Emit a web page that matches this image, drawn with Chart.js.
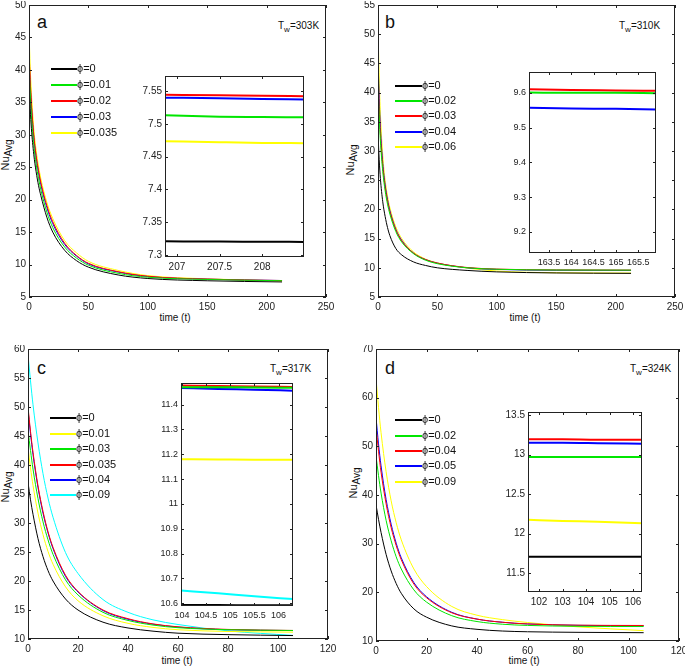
<!DOCTYPE html>
<html>
<head>
<meta charset="utf-8">
<script src="https://cdn.jsdelivr.net/npm/chart.js@4.4.0/dist/chart.umd.min.js"></script>
<style>
body { margin: 0; background: #fff; width: 685px; height: 669px; position: relative; overflow: hidden; font-family: "Liberation Sans", Arial, sans-serif; }
canvas { position: absolute; }
.txt { position: absolute; color: #111; white-space: nowrap; line-height: 1; }
.letter { font-size: 18px; line-height: 18px; }
.tw { font-size: 10px; }
.tw sub { font-size: 8px; vertical-align: -3px; }
.yt { font-size: 11px; transform: translate(-50%, -50%) rotate(-90deg); }
.yt sub { font-size: 10px; vertical-align: -3px; }
.xt { font-size: 10px; transform: translateX(-50%); }
.leg { position: absolute; font-size: 11px; line-height: 11px; color: #111; white-space: nowrap; }
</style>
</head>
<body>

<div class="txt letter" style="left:37px;top:13px">a</div>
<div class="txt letter" style="left:385px;top:13px">b</div>
<div class="txt letter" style="left:37px;top:359px">c</div>
<div class="txt letter" style="left:385px;top:359px">d</div>

<div class="txt tw" style="left:278px;top:21px">T<sub>w</sub>=303K</div>
<div class="txt tw" style="left:619px;top:21px">T<sub>w</sub>=310K</div>
<div class="txt tw" style="left:270px;top:364px">T<sub>w</sub>=317K</div>
<div class="txt tw" style="left:630px;top:364px">T<sub>w</sub>=324K</div>

<div class="txt yt" style="left:7px;top:155px">Nu<sub>Avg</sub></div>
<div class="txt yt" style="left:352px;top:160px">Nu<sub>Avg</sub></div>
<div class="txt yt" style="left:7px;top:487px">Nu<sub>Avg</sub></div>
<div class="txt yt" style="left:355px;top:483px">Nu<sub>Avg</sub></div>

<div class="txt xt" style="left:175px;top:313px">time (t)</div>
<div class="txt xt" style="left:525px;top:313px">time (t)</div>
<div class="txt xt" style="left:177px;top:656px">time (t)</div>
<div class="txt xt" style="left:524px;top:656px">time (t)</div>

<script>
// ---- panel a (Tw = 303K) ----
const timeA = [0, 1, 2, 4, 6, 8, 10, 15, 20, 30, 40, 50, 75, 100, 150, 213];
const phiA = ['0', '0.01', '0.02', '0.03', '0.035'];
const nuA_0    = [38, 34, 31, 27, 24.3, 22.2, 20.6, 17.3, 15, 12.2, 10.6, 9.6, 8.4, 7.85, 7.5, 7.32];
const nuA_001  = [41, 36.5, 33, 28.5, 25.5, 23.3, 21.5, 18.1, 15.7, 12.7, 11, 9.9, 8.65, 8.05, 7.7, 7.51];
const nuA_002  = [43, 38.5, 35, 30, 26.8, 24.5, 22.6, 19.1, 16.6, 13.3, 11.4, 10.2, 8.9, 8.2, 7.75, 7.54];
const nuA_003  = [42, 37.8, 34.4, 29.6, 26.5, 24.2, 22.3, 18.8, 16.3, 13.1, 11.3, 10.1, 8.85, 8.15, 7.75, 7.54];
const nuA_0035 = [46, 40.5, 36.5, 31, 27.6, 25.2, 23.2, 19.6, 17.1, 13.7, 11.8, 10.5, 9.1, 8.3, 7.8, 7.47];
const xTicksA = [0, 50, 100, 150, 200, 250];
const yTicksA = [5, 10, 15, 20, 25, 30, 35, 40, 45, 50];
// inset a
const insetTimeA = [206.86, 207.5, 208, 208.49];
const insA_0    = [7.321, 7.3205, 7.3203, 7.320];
const insA_001  = [7.513, 7.511, 7.5105, 7.510];
const insA_002  = [7.5445, 7.5435, 7.543, 7.542];
const insA_003  = [7.540, 7.539, 7.538, 7.537];
const insA_0035 = [7.4735, 7.472, 7.471, 7.4705];
const insXTicksA = [207, 207.5, 208];
const insYTicksA = [7.3, 7.35, 7.4, 7.45, 7.5, 7.55];

// ---- panel b (Tw = 310K) ----
const timeB = [0, 1, 2, 4, 6, 8, 10, 15, 20, 30, 40, 50, 75, 100, 150, 213];
const phiB = ['0', '0.02', '0.03', '0.04', '0.06'];
const nuB_0    = [33, 28.5, 25.3, 21.3, 18.8, 16.9, 15.5, 13.3, 12.2, 11.0, 10.4, 10.0, 9.55, 9.3, 9.12, 9.05];
const nuB_002  = [42, 36, 31.8, 26.5, 23.2, 20.9, 19.2, 16.2, 14.4, 12.4, 11.3, 10.7, 10.0, 9.75, 9.62, 9.60];
const nuB_003  = [44, 37.5, 33, 27.3, 23.8, 21.4, 19.6, 16.5, 14.6, 12.5, 11.4, 10.8, 10.05, 9.78, 9.63, 9.607];
const nuB_004  = [46, 39, 34, 27.9, 24.2, 21.7, 19.8, 16.6, 14.7, 12.5, 11.4, 10.8, 10.0, 9.72, 9.58, 9.55];
const nuB_006  = [51, 42.5, 36.5, 29.2, 25, 22.3, 20.3, 17, 15, 12.7, 11.5, 10.85, 9.95, 9.45, 9.15, 9.1];
const xTicksB = [0, 50, 100, 150, 200, 250];
const yTicksB = [5, 10, 15, 20, 25, 30, 35, 40, 45, 50, 55];
// inset b
const insetTimeB = [163.05, 164, 165, 165.9];
const insB_002 = [9.601, 9.600, 9.600, 9.599];
const insB_003 = [9.610, 9.608, 9.607, 9.606];
const insB_004 = [9.557, 9.555, 9.554, 9.552];
const insXTicksB = [163.5, 164, 164.5, 165, 165.5];
const insYTicksB = [9.2, 9.3, 9.4, 9.5, 9.6];

// ---- panel c (Tw = 317K) ----
const timeC = [0, 1, 2, 4, 6, 8, 10, 15, 20, 30, 40, 50, 60, 80, 106];
const phiC = ['0', '0.01', '0.03', '0.035', '0.04', '0.09'];
const nuC_0    = [37, 34, 31.5, 27.3, 24.2, 21.8, 20, 16.9, 15, 12.9, 11.9, 11.35, 11.0, 10.75, 10.593];
const nuC_001  = [43, 39.5, 36.5, 31.7, 28, 25.1, 22.9, 19, 16.6, 14, 12.7, 12.0, 11.6, 11.3, 11.18];
const nuC_003  = [46, 42.5, 39.3, 34.2, 30.2, 27.1, 24.6, 20.2, 17.6, 14.6, 13.2, 12.4, 11.95, 11.6, 11.47];
const nuC_0035 = [50, 45.8, 42.2, 36.4, 32, 28.5, 25.8, 21, 18.2, 15, 13.5, 12.6, 12.1, 11.65, 11.471];
const nuC_004  = [49.5, 45.4, 41.8, 36.1, 31.7, 28.3, 25.6, 20.8, 18.1, 14.9, 13.4, 12.55, 12.05, 11.6, 11.456];
const nuC_009  = [59, 54.5, 50.4, 43.8, 38.5, 34.3, 31, 24.9, 21.3, 16.8, 14.6, 13.3, 12.5, 11.4, 10.617];
const xTicksC = [0, 20, 40, 60, 80, 100, 120];
const yTicksC = [10, 15, 20, 25, 30, 35, 40, 45, 50, 55, 60];
// inset c
const insetTimeC = [103.98, 104.75, 105.5, 106.3];
const insC_0    = [10.593, 10.593, 10.592, 10.592];
const insC_001  = [11.180, 11.179, 11.178, 11.178];
const insC_003  = [11.470, 11.470, 11.469, 11.468];
const insC_0035 = [11.477, 11.475, 11.473, 11.471];
const insC_004  = [11.467, 11.463, 11.460, 11.456];
const insC_009  = [10.651, 10.640, 10.628, 10.617];
const insXTicksC = [104, 104.5, 105, 105.5, 106];
const insYTicksC = [10.6, 10.7, 10.8, 10.9, 11, 11.1, 11.2, 11.3, 11.4];

// ---- panel d (Tw = 324K) ----
const timeD = [0, 1, 2, 4, 6, 8, 10, 15, 20, 30, 40, 50, 60, 80, 106];
const phiD = ['0', '0.02', '0.04', '0.05', '0.09'];
const nuD_0    = [38, 35, 32.3, 27.8, 24.4, 21.8, 19.8, 16.6, 14.9, 13.1, 12.4, 12.05, 11.9, 11.78, 11.707];
const nuD_002  = [48, 44, 40.4, 34.8, 30.6, 27.3, 24.8, 20.5, 18, 15.2, 14, 13.45, 13.2, 13.02, 12.97];
const nuD_004  = [54, 49, 44.7, 38.2, 33.3, 29.6, 26.7, 21.7, 18.9, 15.8, 14.5, 13.85, 13.5, 13.25, 13.19];
const nuD_005  = [56, 50.5, 46, 39.1, 34, 30.1, 27.1, 22, 19.1, 15.9, 14.5, 13.85, 13.5, 13.22, 13.137];
const nuD_009  = [64, 58, 52.8, 44.8, 38.8, 34.3, 30.8, 24.8, 21.2, 17.1, 15.3, 14.4, 13.8, 12.9, 12.13];
const xTicksD = [0, 20, 40, 60, 80, 100, 120];
const yTicksD = [10, 20, 30, 40, 50, 60, 70];
// inset d
const insetTimeD = [101.53, 103, 104.5, 106.38];
const insD_0   = [11.707, 11.707, 11.707, 11.707];
const insD_002 = [12.97, 12.97, 12.97, 12.97];
const insD_004 = [13.195, 13.195, 13.19, 13.19];
const insD_005 = [13.15, 13.15, 13.145, 13.137];
const insD_009 = [12.174, 12.16, 12.15, 12.13];
const insXTicksD = [102, 103, 104, 105, 106];
const insYTicksD = [11.5, 12, 12.5, 13, 13.5];

const K = '#000000', G = '#00e600', R = '#ff0000', B = '#0000ff', Y = '#ffff00', Cy = '#00ffff';

// box plus inward ticks on all four sides, like the matlab axes
const framePlugin = {
    id: 'frame',
    beforeDraw(chart, args, opts) {
        if (!opts.bg) return;
        const a = chart.chartArea;
        chart.ctx.save();
        chart.ctx.fillStyle = '#fff';
        chart.ctx.fillRect(a.left, a.top, a.width, a.height);
        chart.ctx.restore();
    },
    afterDraw(chart, args, opts) {
        const { ctx, chartArea: a, scales } = chart;
        const len = opts.len || 3;
        ctx.save();
        ctx.strokeStyle = '#222';
        ctx.lineWidth = 1;
        ctx.strokeRect(Math.round(a.left) + 0.5, Math.round(a.top) + 0.5, Math.round(a.width) - 1, Math.round(a.height) - 1);
        ctx.beginPath();
        scales.x.ticks.forEach(t => {
            const px = Math.round(scales.x.getPixelForValue(t.value)) + 0.5;
            ctx.moveTo(px, a.bottom); ctx.lineTo(px, a.bottom - len);
            ctx.moveTo(px, a.top); ctx.lineTo(px, a.top + len);
        });
        scales.y.ticks.forEach(t => {
            const py = Math.round(scales.y.getPixelForValue(t.value)) + 0.5;
            ctx.moveTo(a.left, py); ctx.lineTo(a.left + len, py);
            ctx.moveTo(a.right, py); ctx.lineTo(a.right - len, py);
        });
        ctx.stroke();
        ctx.restore();
    }
};

function makePlot(p) {
    const cv = document.createElement('canvas');
    const W = p.r - p.l + p.yw + p.pr;
    const H = p.b - p.t + p.pt + p.xh;
    cv.width = W; cv.height = H;
    cv.style.left = (p.l - p.yw) + 'px';
    cv.style.top = (p.t - p.pt) + 'px';
    cv.style.width = W + 'px'; cv.style.height = H + 'px';
    document.body.appendChild(cv);

    const tickFont = { family: '"Liberation Sans", Arial, sans-serif', size: p.fs || 10 };
    return new Chart(cv.getContext('2d'), {
        type: 'line',
        data: {
            datasets: p.series.map((s, i) => ({
                label: p.labels ? 'ϕ=' + p.labels[i] : '',
                data: p.x.map((t, j) => ({ x: t, y: s[j] })),
                borderColor: p.colors[i],
                borderWidth: p.lw,
                pointRadius: 0,
                cubicInterpolationMode: 'monotone',
                fill: false
            }))
        },
        options: {
            responsive: false,
            animation: false,
            devicePixelRatio: 1,
            layout: { padding: { left: 0, top: p.pt, right: p.pr, bottom: 0 } },
            plugins: {
                legend: { display: false },
                tooltip: { enabled: false },
                frame: { bg: p.bg, len: 3 }
            },
            scales: {
                x: {
                    type: 'linear', min: p.xMin, max: p.xMax,
                    grid: { display: false, drawTicks: false },
                    border: { display: false },
                    ticks: { font: tickFont, color: '#222', padding: 4, maxRotation: 0, autoSkip: false, callback: v => String(v) },
                    afterBuildTicks: s => { s.ticks = p.xTicks.map(v => ({ value: v })); },
                    afterFit: s => { s.height = p.xh; s.paddingLeft = 0; s.paddingRight = 0; }
                },
                y: {
                    type: 'linear', min: p.yMin, max: p.yMax,
                    grid: { display: false, drawTicks: false },
                    border: { display: false },
                    ticks: { font: tickFont, color: '#222', padding: 3, autoSkip: false, callback: v => String(v) },
                    afterBuildTicks: s => { s.ticks = p.yTicks.map(v => ({ value: v })); },
                    afterFit: s => { s.width = p.yw; s.paddingTop = 0; s.paddingBottom = 0; }
                }
            }
        },
        plugins: [framePlugin]
    });
}

function makeLegend(chart, x0, x1, ys) {
    chart.data.datasets.forEach((ds, i) => {
        const ln = document.createElement('div');
        ln.className = 'leg';
        ln.style.left = x0 + 'px';
        ln.style.top = (ys[i] - 1) + 'px';
        ln.style.width = (x1 - x0) + 'px';
        ln.style.height = '2px';
        ln.style.background = ds.borderColor;
        document.body.appendChild(ln);
        const tx = document.createElement('div');
        tx.className = 'leg';
        tx.textContent = ds.label;
        tx.style.left = x1 + 'px';
        tx.style.top = (ys[i] - 6) + 'px';
        document.body.appendChild(tx);
    });
}

const mainA = makePlot({ l: 29, t: 5, r: 326, b: 297, yw: 27, xh: 22, pt: 4, pr: 10,
    xMin: 0, xMax: 250, yMin: 5, yMax: 50, xTicks: xTicksA, yTicks: yTicksA, x: timeA, lw: 1,
    series: [nuA_0, nuA_001, nuA_002, nuA_003, nuA_0035], labels: phiA, colors: [K, G, R, B, Y] });
const mainB = makePlot({ l: 378, t: 5, r: 675, b: 297, yw: 27, xh: 22, pt: 4, pr: 10,
    xMin: 0, xMax: 250, yMin: 5, yMax: 55, xTicks: xTicksB, yTicks: yTicksB, x: timeB, lw: 1,
    series: [nuB_0, nuB_002, nuB_003, nuB_004, nuB_006], labels: phiB, colors: [K, G, R, B, Y] });
const mainC = makePlot({ l: 28, t: 349, r: 328, b: 639, yw: 27, xh: 22, pt: 4, pr: 10,
    xMin: 0, xMax: 120, yMin: 10, yMax: 60, xTicks: xTicksC, yTicks: yTicksC, x: timeC, lw: 1,
    series: [nuC_0, nuC_001, nuC_003, nuC_0035, nuC_004, nuC_009], labels: phiC, colors: [K, Y, G, R, B, Cy] });
const mainD = makePlot({ l: 376, t: 349, r: 679, b: 641, yw: 27, xh: 22, pt: 4, pr: 6,
    xMin: 0, xMax: 120, yMin: 10, yMax: 70, xTicks: xTicksD, yTicks: yTicksD, x: timeD, lw: 1,
    series: [nuD_0, nuD_002, nuD_004, nuD_005, nuD_009], labels: phiD, colors: [K, G, R, B, Y] });

makePlot({ l: 165, t: 76, r: 304, b: 257, yw: 28, xh: 18, pt: 2, pr: 2, bg: true, fs: 10,
    xMin: 206.86, xMax: 208.49, yMin: 7.297, yMax: 7.573, xTicks: insXTicksA, yTicks: insYTicksA, x: insetTimeA, lw: 2,
    series: [insA_0, insA_001, insA_002, insA_003, insA_0035], colors: [K, G, R, B, Y] });
makePlot({ l: 529, t: 72, r: 656, b: 253, yw: 28, xh: 18, pt: 2, pr: 2, bg: true, fs: 9,
    xMin: 163.05, xMax: 165.9, yMin: 9.139, yMax: 9.66, xTicks: insXTicksB, yTicks: insYTicksB, x: insetTimeB, lw: 2,
    series: [insB_002, insB_003, insB_004], colors: [G, R, B] });
makePlot({ l: 181, t: 383, r: 293, b: 606, yw: 28, xh: 16, pt: 2, pr: 2, bg: true, fs: 9,
    xMin: 103.98, xMax: 106.3, yMin: 10.589, yMax: 11.487, xTicks: insXTicksC, yTicks: insYTicksC, x: insetTimeC, lw: 2,
    series: [insC_0, insC_001, insC_003, insC_0035, insC_004, insC_009], colors: [K, Y, G, R, B, Cy] });
makePlot({ l: 528, t: 412, r: 642, b: 592, yw: 28, xh: 18, pt: 2, pr: 2, bg: true, fs: 10,
    xMin: 101.53, xMax: 106.38, yMin: 11.26, yMax: 13.54, xTicks: insXTicksD, yTicks: insYTicksD, x: insetTimeD, lw: 2,
    series: [insD_0, insD_002, insD_004, insD_005, insD_009], colors: [K, G, R, B, Y] });

makeLegend(mainA, 51, 77, [69, 85, 101, 117, 133]);
makeLegend(mainB, 395, 422, [86, 101, 116, 132, 147]);
makeLegend(mainC, 50, 76, [418, 434, 449, 465, 480, 495]);
makeLegend(mainD, 395, 422, [420, 436, 451, 466, 482]);
</script>
</body>
</html>
